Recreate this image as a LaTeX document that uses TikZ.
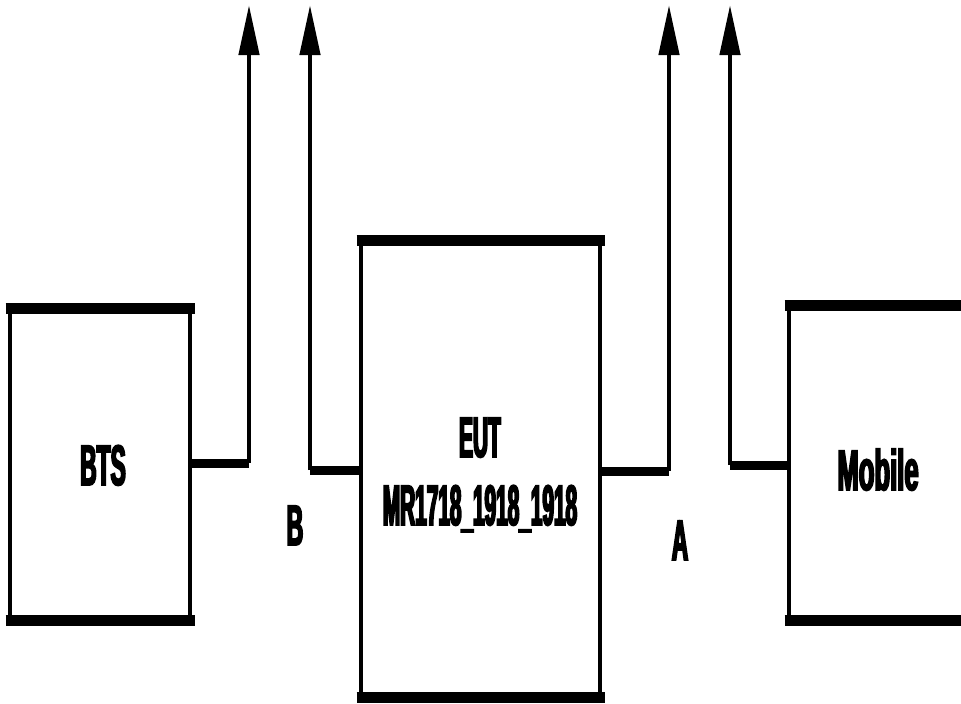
\documentclass[tikz,border=0pt]{standalone}
\usepackage{fontspec}
\setmainfont{Liberation Sans}[FakeStretch=0.4]
\newfontfamily\heavyfont{Liberation Sans}[FakeStretch=0.4,FakeBold=3]
\newfontfamily\heavynarrowfont{Liberation Sans}[FakeStretch=0.365,FakeBold=3]
\newfontfamily\heavywidefont{Liberation Sans}[FakeStretch=0.45,FakeBold=3]
\usepackage{tikz}
\usetikzlibrary{arrows.meta}

\tikzset{
  unit/.style={draw, line width=4.5pt, inner sep=0pt},
  bar/.style={line width=11pt, shorten <=-2.25pt, shorten >=-2.25pt},
  feed/.style={line width=9pt, line join=round},
  riser/.style={line width=4.5pt, -{Triangle[length=50pt,width=20pt]}},
  tag/.style={font=\heavyfont\bfseries\fontsize{57}{68}\selectfont, align=center, inner sep=0pt}
}

\begin{document}
\begin{tikzpicture}[x=1pt,y=-1pt]
\useasboundingbox (0,0) rectangle (961,704);
\clip (0,0) rectangle (961,704);

% units
\node[unit, minimum width=180pt, minimum height=307pt] (bts) at (100,464.5) {};
\node[unit, minimum width=239pt, minimum height=452pt] (eut) at (480.5,469) {};
\node[unit, minimum width=240pt, minimum height=310pt] (mobile) at (909,463) {};
\draw[bar] (bts.north west) -- (bts.north east);
\draw[bar] (bts.south west) -- (bts.south east);
\draw[bar] (eut.north west) -- (eut.north east);
\draw[bar] (eut.south west) -- (eut.south east);
\draw[bar] (mobile.north west) -- (mobile.north east);
\draw[bar] (mobile.south west) -- (mobile.south east);

\node[tag, anchor=base] (btsname) at (103,485) {BTS};
\node[tag, font=\heavynarrowfont\bfseries\fontsize{57}{68}\selectfont, anchor=base] (eutname) at (480,525) {EUT\\MR1718\_1918\_1918};
\node[tag, font=\heavywidefont\bfseries\fontsize{57}{68}\selectfont, anchor=base] (mobilename) at (878,490) {Mobile};

% feeds
\coordinate (btscorner) at (249,463);
\coordinate (btstop) at (249,5);
\coordinate (bcorner) at (310,470);
\coordinate (btop) at (310,5);
\coordinate (acorner) at (669,471);
\coordinate (atop) at (669,5);
\coordinate (mobcorner) at (730,465);
\coordinate (mobtop) at (730,5);

\draw[feed] (bts.east |- btscorner) -- (btscorner);
\draw[riser] (btscorner) -- (btstop);
\draw[feed] (eut.west |- bcorner) -- (bcorner);
\draw[riser] (bcorner) -- (btop);
\draw[feed] (eut.east |- acorner) -- (acorner);
\draw[riser] (acorner) -- (atop);
\draw[feed] (mobile.west |- mobcorner) -- (mobcorner);
\draw[riser] (mobcorner) -- (mobtop);

% port names
\node[tag, anchor=base] (portb) at (295,545) {B};
\node[tag, anchor=base] (porta) at (680,560) {A};
\end{tikzpicture}
\end{document}
